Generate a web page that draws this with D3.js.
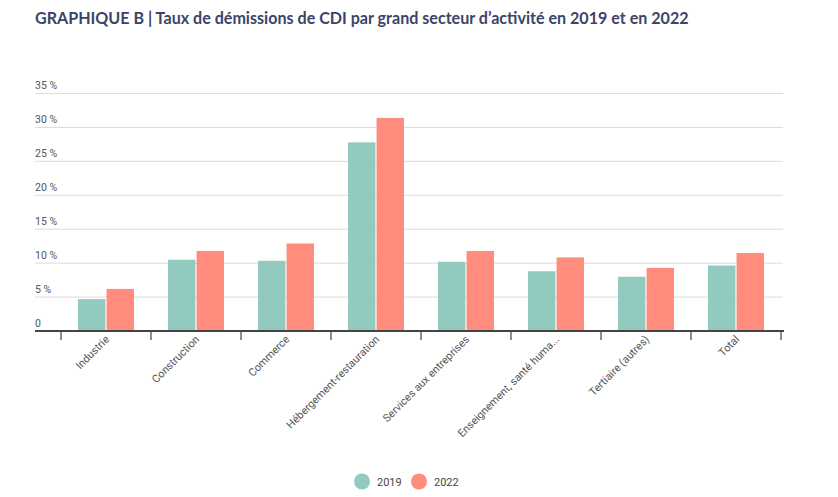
<!DOCTYPE html>
<html>
<head>
<meta charset="utf-8">
<script src="https://cdn.jsdelivr.net/npm/d3@7"></script>
<style>
  body { margin: 0; background: #fff; }
  svg { display: block; }
</style>
</head>
<body>
<div id="chart"></div>
<script>
const width = 838;
const height = 497;

const color_2019 = '#93cac0';
const color_2022 = '#ff8c7c';

// valeurs
var categories = ['Industrie', 'Construction', 'Commerce', 'Hébergement-restauration',
                  'Services aux entreprises', 'Enseignement, santé huma...', 'Tertiaire (autres)', 'Total'];
var years = ['2019', '2022'];
var values_2019 = [4.7, 10.5, 10.35, 27.8, 10.2, 8.8, 8.0, 9.65];
var values_2022 = [6.2, 11.8, 12.9, 31.4, 11.8, 10.85, 9.3, 11.5];
var y_ticks = [0, 5, 10, 15, 20, 25, 30, 35];

var svg = d3.select('#chart')
            .append('svg')
            .attr('width', width)
            .attr('height', height)

svg.append('text')
    .attr('x', 35)
    .attr('y', 24)
    .attr('font-family', 'Lato, "Open Sans", sans-serif')
    .attr('font-weight', 'bold')
    .attr('font-size', 16.1)
    .attr('fill', '#3b4468')
    .text('GRAPHIQUE B | Taux de démissions de CDI par grand secteur d\u2019activité en 2019 et en 2022')

var yScale = d3.scaleLinear()
                .domain([0, 35])
                .range([331, 93.5]);

var xScale = d3.scaleBand()
                .domain(categories)
                .range([61, 781])
                .paddingInner(0)
                .paddingOuter(0);

var xSub = d3.scaleBand()
                .domain(years)
                .range([17, 73])
                .paddingInner(0.04);

// grille
var grid = svg.append('g');
grid.selectAll('line')
    .data(y_ticks.filter(function(d){ return d > 0; }))
    .enter()
    .append('line')
    .attr('x1', 35)
    .attr('x2', 783)
    .attr('y1', function(d){ return yScale(d); })
    .attr('y2', function(d){ return yScale(d); })
    .attr('stroke', '#dcdcdc')
    .attr('stroke-width', 1)

grid.selectAll('text')
    .data(y_ticks)
    .enter()
    .append('text')
    .attr('x', 35)
    .attr('y', function(d){ return yScale(d) - 4.5; })
    .attr('font-family', 'Roboto, sans-serif')
    .attr('font-size', 10.5)
    .attr('fill', '#555')
    .text(function(d){ return d === 0 ? '0' : d + ' %'; })

// barres
var rows = categories.map(function(c, i){
    return {cat: c, values: [{year: '2019', v: values_2019[i]}, {year: '2022', v: values_2022[i]}]};
});

var groups = svg.append('g')
    .selectAll('.bar_group')
    .data(rows)
    .enter()
    .append('g')
    .attr('class', 'bar_group')
    .attr('transform', function(d){ return 'translate(' + xScale(d.cat) + ',0)'; })

groups.selectAll('rect')
    .data(function(d){ return d.values; })
    .enter()
    .append('rect')
    .attr('x', function(d){ return xSub(d.year); })
    .attr('width', xSub.bandwidth())
    .attr('y', function(d){ return yScale(d.v); })
    .attr('height', function(d){ return yScale(0) - yScale(d.v); })
    .attr('fill', function(d){ return d.year === '2019' ? color_2019 : color_2022; })

// axe x
var xAxis = svg.append('g')
    .attr('transform', 'translate(0,' + yScale(0) + ')');

xAxis.append('line')
    .attr('x1', 35)
    .attr('x2', 784)
    .attr('y1', 0)
    .attr('y2', 0)
    .attr('stroke', '#444')
    .attr('stroke-width', 2)

xAxis.selectAll('.tick')
    .data(categories.concat(['end']))
    .enter()
    .append('line')
    .attr('class', 'tick')
    .attr('x1', function(d, i){ return i < categories.length ? xScale(d) : xScale.range()[1]; })
    .attr('x2', function(d, i){ return i < categories.length ? xScale(d) : xScale.range()[1]; })
    .attr('y1', 1)
    .attr('y2', 9)
    .attr('stroke', '#444')
    .attr('stroke-width', 1.2)

xAxis.selectAll('.label')
    .data(categories)
    .enter()
    .append('text')
    .attr('class', 'label')
    .attr('text-anchor', 'end')
    .attr('font-family', 'Roboto, sans-serif')
    .attr('font-size', 10.8)
    .attr('fill', '#555')
    .attr('transform', function(d){
        return 'translate(' + (xScale(d) + xScale.bandwidth() / 2 + 4) + ',9) rotate(-45)';
    })
    .text(function(d){ return d; })

// légende
var legend = svg.append('g');
var legend_x = [362, 419];
legend.selectAll('circle')
    .data(years)
    .enter()
    .append('circle')
    .attr('cx', function(d, i){ return legend_x[i]; })
    .attr('cy', 481.5)
    .attr('r', 8)
    .attr('fill', function(d){ return d === '2019' ? color_2019 : color_2022; })

legend.selectAll('text')
    .data(years)
    .enter()
    .append('text')
    .attr('x', function(d, i){ return legend_x[i] + 15; })
    .attr('y', 485.5)
    .attr('font-family', 'Roboto, sans-serif')
    .attr('font-size', 11)
    .attr('fill', '#444')
    .text(function(d){ return d; })
</script>
</body>
</html>
